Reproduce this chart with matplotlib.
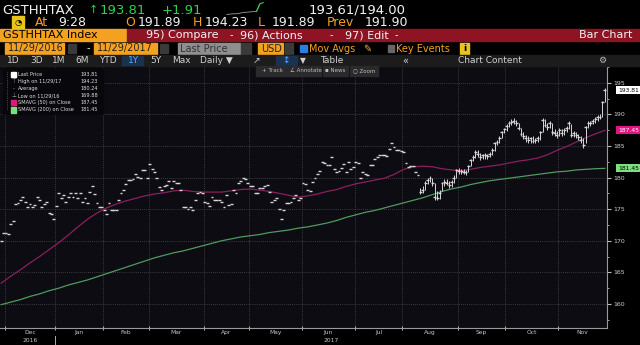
import matplotlib
matplotlib.use("Agg")
import matplotlib.pyplot as plt
from matplotlib.patches import Rectangle
import numpy as np
import pandas as pd

W, H = 640, 345

# US market holidays inside the window (trading-day x axis, like the terminal)
HOLIDAYS = ["2016-12-26", "2017-01-02", "2017-01-16", "2017-02-20", "2017-04-14",
            "2017-05-29", "2017-07-04", "2017-09-04", "2017-11-23"]
trade_dates = pd.bdate_range("2016-11-29", "2017-11-29").difference(pd.to_datetime(HOLIDAYS))

# daily closes
close = [
    169.9, 171.3, 171.2, 171.1, 172.6, 173.2, 175.8, 176.0, 176.4, 177.0,
    176.2, 175.3, 175.8, 175.3, 175.6, 177.0, 176.5, 175.3, 175.8, 176.2,
    174.4, 174.2, 173.4, 175.5, 177.6, 176.7, 177.2, 176.2, 177.0, 177.6,
    177.0, 177.6, 176.7, 177.6, 176.2, 176.7, 176.0, 177.7, 178.6, 177.4,
    175.9, 175.3, 175.3, 174.8, 174.2, 175.9, 174.9, 174.9, 174.9, 176.4,
    177.5, 178.1, 179.0, 179.6, 179.6, 179.7, 180.6, 180.1, 180.0, 181.2,
    181.2, 179.9, 182.1, 181.3, 180.9, 179.9, 178.5, 178.0, 178.6, 178.8,
    179.5, 178.3, 179.5, 179.2, 179.1, 178.0, 175.4, 175.3, 175.1, 175.3,
    174.9, 176.4, 177.5, 177.7, 177.5, 176.2, 175.9, 175.5, 177.0, 176.5,
    176.4, 176.5, 176.2, 175.3, 177.2, 175.6, 175.8, 178.0, 177.5, 179.1,
    179.5, 179.9, 179.7, 179.1, 178.6, 178.6, 177.5, 177.5, 178.3, 178.4,
    178.6, 178.8, 177.7, 176.2, 176.5, 176.7, 175.0, 173.5, 174.9, 175.9,
    176.0, 176.2, 176.7, 177.2, 176.5, 176.7, 179.2, 179.0, 178.1, 177.9,
    179.3, 180.0, 180.6, 181.1, 182.5, 182.3, 182.0, 182.0, 183.3, 181.4,
    180.9, 181.1, 181.5, 182.1, 180.8, 182.5, 181.4, 181.6, 182.5, 182.3,
    179.9, 180.9, 180.5, 180.4, 182.0, 182.0, 182.9, 183.2, 183.5, 183.5,
    183.5, 183.4, 184.5, 185.5, 184.9, 184.4, 184.4, 184.2, 184.1, 182.3,
    181.7, 181.8, 181.8, 180.9, 180.4, 177.7, 178.1, 179.2, 179.6, 180.0,
    179.1, 177.0, 176.7, 177.5, 179.1, 179.3, 179.2, 178.8, 179.3, 180.0,
    181.2, 181.0, 181.1, 180.9, 180.8, 181.8, 182.8, 183.2, 184.1, 183.8,
    183.2, 183.5, 183.5, 183.4, 183.8, 184.3, 185.4, 185.6, 186.2, 187.2,
    187.6, 188.1, 188.6, 188.8, 189.0, 188.6, 187.8, 186.9, 186.5, 186.2,
    185.9, 186.2, 185.8, 186.0, 186.2, 187.2, 189.1, 188.3, 188.0, 188.6,
    187.2, 187.0, 186.7, 187.5, 187.0, 187.5, 187.8, 188.6, 186.7, 187.0,
    186.7, 186.4, 185.9, 185.2, 188.0, 188.6, 188.6, 189.0, 189.2, 189.6,
    189.5, 191.9, 193.81,
]

# intraday range only shows from mid-August on
RANGE_START = "2017-08-10"
high_recent = [
    178.4, 178.6, 179.5, 180.0, 180.3, 180.0, 179.1, 177.8, 178.0, 179.3,
    179.7, 179.8, 179.5, 179.6, 180.4, 181.4, 181.5, 181.4, 181.3, 181.2,
    182.0, 183.0, 183.5, 184.4, 184.3, 183.9, 183.8, 183.9, 183.8, 184.0,
    184.6, 185.6, 186.0, 186.5, 187.4, 187.9, 188.4, 188.9, 189.3, 189.4,
    189.1, 188.7, 187.9, 187.2, 186.8, 186.5, 186.4, 186.5, 186.3, 186.5,
    187.4, 189.4, 189.2, 188.6, 188.9, 188.6, 187.6, 187.3, 187.8, 187.7,
    187.8, 188.1, 188.9, 188.5, 187.4, 187.2, 186.9, 186.6, 186.3, 188.2,
    188.9, 189.0, 189.3, 189.5, 189.9, 190.1, 192.1, 194.23,
]
low_recent = [
    177.4, 177.6, 178.0, 179.0, 179.3, 178.6, 176.5, 176.4, 176.6, 177.8,
    178.7, 178.8, 178.4, 178.5, 179.2, 180.0, 180.6, 180.5, 180.5, 180.4,
    180.8, 181.8, 182.6, 183.1, 183.3, 182.7, 182.9, 183.0, 182.9, 183.2,
    183.6, 184.2, 185.1, 185.5, 186.2, 187.0, 187.4, 188.0, 188.3, 188.4,
    188.2, 187.5, 186.6, 186.1, 185.7, 185.4, 185.5, 185.4, 185.5, 185.6,
    186.0, 187.2, 188.0, 187.5, 187.8, 186.8, 186.5, 186.2, 186.6, 186.6,
    186.8, 187.2, 187.7, 186.4, 186.4, 186.2, 185.9, 185.5, 184.6, 185.4,
    187.8, 188.2, 188.5, 188.7, 188.9, 189.2, 189.6, 191.89,
]

# moving averages, sampled every 4th session
MA_STEP = 4
smavg_50 = [
    163.3, 164.4, 165.4, 166.5, 167.5, 168.6, 169.7, 170.9, 172.2, 173.4,
    174.4, 175.2, 175.8, 176.3, 176.7, 177.1, 177.4, 177.6, 177.9, 178.0,
    177.8, 177.7, 177.7, 177.7, 177.9, 178.1, 178.2, 178.0, 177.8, 177.5,
    177.2, 176.9, 177.1, 177.4, 177.8, 178.1, 178.6, 179.0, 179.3, 179.6,
    179.9, 180.5, 181.3, 181.7, 181.8, 181.7, 181.4, 181.2, 181.1, 181.3,
    181.6, 181.8, 182.0, 182.3, 182.6, 182.8, 183.1, 183.6, 184.3, 184.9,
    185.6, 186.3, 186.9, 187.45,
]
smavg_200 = [
    159.9, 160.3, 160.7, 161.2, 161.6, 162.1, 162.5, 163.0, 163.4, 163.8,
    164.3, 164.8, 165.3, 165.8, 166.3, 166.8, 167.3, 167.7, 168.1, 168.4,
    168.8, 169.2, 169.6, 170.0, 170.3, 170.6, 170.8, 171.0, 171.3, 171.5,
    171.7, 172.0, 172.2, 172.5, 172.8, 173.2, 173.7, 174.1, 174.5, 174.8,
    175.2, 175.6, 176.0, 176.4, 176.8, 177.3, 177.8, 178.2, 178.5, 178.9,
    179.2, 179.5, 179.7, 179.9, 180.1, 180.3, 180.5, 180.7, 180.9, 181.0,
    181.2, 181.3, 181.4, 181.45,
]

# intraday sparkline in the header
spark = [191.9, 191.95, 192.0, 192.0, 192.1, 192.2, 192.25, 192.3, 192.35, 192.4, 193.6, 193.8]

y_ticks = [160, 165, 170, 175, 180, 185, 190, 195]
legend_rows = [
    ("Last Price", "193.81", "#ffffff"),
    ("High on 11/29/17", "194.23", None),
    ("Average", "180.24", None),
    ("Low on 11/29/16", "169.88", None),
    ("SMAVG (50) on Close", "187.45", "#e0157f"),
    ("SMAVG (200) on Close", "181.45", "#7be07f"),
]

ORANGE = "#f4a11f"
GREEN = "#2fd14e"
WHITE = "#f2f2f2"
RED = "#8e1424"
MA50_COLOR = "#8c1f5e"
MA200_COLOR = "#4f9a5e"
BAR_COLOR = "#d6d6d6"

plt.rcParams["font.family"] = ["DejaVu Sans"]

fig = plt.figure(figsize=(W / 100, H / 100), dpi=100, facecolor="black")


def box(x0, y0, x1, y1, color, z=1):
    fig.patches.append(Rectangle((x0 / W, 1 - y1 / H), (x1 - x0) / W, (y1 - y0) / H,
                                 transform=fig.transFigure, color=color, zorder=z))


def txt(x, y, s, color=WHITE, size=8, ha="left", **kw):
    fig.text(x / W, 1 - y / H, s, color=color, fontsize=size, ha=ha, va="center", **kw)


# ---- header row 1 / 2: quote
txt(2, 10, "GSTHHTAX", size=9.5)
txt(89, 10, "\u2191", color=GREEN, size=8)
txt(100, 10, "193.81", color=GREEN, size=9.5)
txt(162, 10, "+1.91", color=GREEN, size=9.5)
txt(309, 10, "193.61/194.00", size=9.5)

sp = fig.add_axes([225 / W, 1 - 15 / H, 40 / W, 13 / H])
sp.plot(range(len(spark) - 1), spark[:-1], color="#9a9a9a", lw=0.6)
sp.plot(range(len(spark) - 3, len(spark)), spark[-3:], color=GREEN, lw=0.8)
sp.axis("off")
sp.set_facecolor("none")

box(12, 16, 24, 28, "#e8c51a", z=2)
txt(18, 22, "\u25d4", color="black", size=6, ha="center", zorder=3)
txt(35, 22, "At", color=ORANGE, size=9)
txt(58, 22, "9:28", size=9)
txt(125, 22, "O", color=ORANGE, size=9)
txt(138, 22, "191.89", size=9)
txt(193, 22, "H", color=ORANGE, size=9)
txt(205, 22, "194.23", size=9)
txt(258, 22, "L", color=ORANGE, size=9)
txt(272, 22, "191.89", size=9)
txt(327, 22, "Prev", color=ORANGE, size=9)
txt(365, 22, "191.90", size=9)

# ---- header row 3: function bar
box(0, 29, 126, 41, ORANGE)
txt(3, 35, "GSTHHTAX Index", color="black", size=8)
box(127, 29, 640, 41, RED)
txt(146, 35, "95) Compare", size=8)
txt(230, 35, "-", size=7)
txt(240, 35, "96) Actions", size=8)
txt(330, 35, "-", size=7)
txt(345, 35, "97) Edit", size=8)
txt(395, 35, "-", size=7)
txt(632, 35, "Bar Chart", size=8, ha="right")

# ---- header row 4: date range / options
box(5, 43, 64, 54, ORANGE)
txt(8, 48.5, "11/29/2016", color="#222222", size=7)
box(68, 44, 76, 53, "#3a3a3a")
txt(87, 48.5, "-", size=7)
box(94, 43, 157, 54, ORANGE)
txt(97, 48.5, "11/29/2017", color="#222222", size=7)
box(160, 44, 168, 53, "#3a3a3a")
box(178, 43, 240, 54, "#8e8e8e")
txt(180, 48.5, "Last Price", color="#333333", size=7)
box(241, 43, 251, 54, "#3a3a3a")
box(258, 43, 283, 54, ORANGE)
txt(261, 48.5, "USD", color="#222222", size=7)
box(285, 43, 293, 54, "#3a3a3a")
box(300, 45, 307, 52, "#2a7de1")
txt(309, 48.5, "Mov Avgs", color=ORANGE, size=7)
txt(363, 48.5, "\u270e", color="#e6b34a", size=7)
box(388, 45, 394, 52, "#666666")
txt(396, 48.5, "Key Events", color=ORANGE, size=7)
box(460, 43, 469, 54, "#e8c51a")
txt(464.5, 48.5, "i", color="black", size=6.5, ha="center", weight="bold")

# ---- header row 5: periods / toolbar
box(0, 55, 640, 66, "#1c1c1c")
for lbl, x in [("1D", 7), ("3D", 30), ("1M", 52), ("6M", 75), ("YTD", 99), ("5Y", 150),
               ("Max", 172), ("Daily \u25bc", 200)]:
    txt(x, 60.5, lbl, color="#d0d0d0", size=6.5)
box(122, 56, 143, 65, "#1b3150")
txt(128, 60.5, "1Y", color="#5aa8ff", size=6.5)
box(276, 56, 297, 65, "#1b3150")
txt(253, 60.5, "\u2197", color="#d0d0d0", size=6.5)
txt(282, 60.5, "\u2195", color="#5aa8ff", size=6.5)
txt(300, 60.5, "\u25bc", color="#d0d0d0", size=5.5)
txt(320, 60.5, "Table", color="#d0d0d0", size=6.5)
txt(402, 60.5, "\u00ab", color="#d0d0d0", size=7)
txt(458, 60.5, "Chart Content", color="#d0d0d0", size=6.5)
txt(598, 60.5, "\u2699", color="#bbbbbb", size=6.5)

# ---- chart
top_px, bot_px, right_px = 66, 328, 607
ax = fig.add_axes([0, 1 - bot_px / H, right_px / W, (bot_px - top_px) / H])
ax.set_facecolor("#0c0c12")

n = len(trade_dates)
idx = np.arange(n)
close = np.array(close)
high = close.copy()
low = close.copy()
start = trade_dates.get_loc(pd.Timestamp(RANGE_START))
high[start:] = high_recent
low[start:] = low_recent

ax.vlines(idx, low, high, color=BAR_COLOR, lw=0.7, zorder=3)
ax.hlines(close, idx - 0.6, idx + 0.6, color=BAR_COLOR, lw=1.0, zorder=3)

ma_idx = idx[::MA_STEP]
ax.plot(ma_idx, smavg_50, color=MA50_COLOR, lw=0.9, zorder=2)
ax.plot(ma_idx, smavg_200, color=MA200_COLOR, lw=0.9, zorder=2)

ylo = 195 - (bot_px - 82.7) / 6.323
yhi = 195 + (82.7 - top_px) / 6.323
ax.set_ylim(ylo, yhi)
ax.set_xlim(-0.5, n - 0.1)

# month boundaries at the first session of each month
months = trade_dates.to_period("M")
month_starts = [i for i in range(1, n) if months[i] != months[i - 1]]
bounds = [b - 0.5 for b in month_starts]
ax.set_xticks(bounds)
ax.tick_params(axis="x", length=3, direction="inout", color="#aaaaaa", labelbottom=False)
for b in bounds:
    ax.axvline(b, color="#4c4c4c", lw=0.6, ls=(0, (1, 1.5)), zorder=1)
xt = ax.get_xaxis_transform()
edges = bounds + [n - 0.1]
for left_b, right_b, ms in zip(edges[:-1], edges[1:], month_starts):
    ax.text((left_b + right_b) / 2, -0.019, trade_dates[ms].strftime("%b"), transform=xt,
            ha="center", va="center", color="#c8c8c8", fontsize=4.3)
ax.text((bounds[0] + bounds[1]) / 2, -0.047, "2016", transform=xt,
        ha="center", va="center", color="#c8c8c8", fontsize=4.3)
ax.text((bounds[1] + n) / 2, -0.047, "2017", transform=xt,
        ha="center", va="center", color="#c8c8c8", fontsize=4.3)
ax.plot([bounds[1], bounds[1]], [-0.03, -0.065], transform=xt,
        color="#c8c8c8", lw=0.6, clip_on=False)

ax.yaxis.tick_right()
ax.set_yticks(y_ticks)
ax.set_yticks(np.arange(157.5, 197.6, 5), minor=True)
ax.tick_params(axis="y", which="major", length=3, color="#bbbbbb", labelsize=4.5,
               labelcolor="#cfcfcf", pad=1.5)
ax.tick_params(axis="y", which="minor", length=1.5, color="#bbbbbb")
for v in y_ticks:
    ax.axhline(v, color="#4c4c4c", lw=0.6, ls=(0, (1, 1.5)), zorder=1)
for side in ["top", "left"]:
    ax.spines[side].set_visible(False)
for side in ["right", "bottom"]:
    ax.spines[side].set_color("#9a9a9a")
    ax.spines[side].set_linewidth(0.8)

# last value tags on the axis
tags = [(close[-1], "193.81", "#ffffff", "black"),
        (smavg_50[-1], "187.45", "#e0157f", "white"),
        (smavg_200[-1], "181.45", "#7be07f", "black")]
for v, s, fc, tc in tags:
    ax.text(1.018, v, s, transform=ax.get_yaxis_transform(), ha="left", va="center",
            fontsize=4.3, color=tc, clip_on=False,
            bbox=dict(boxstyle="square,pad=0.25", fc=fc, ec="none"))

# in-chart toolbar
for x0, x1, lbl in [(256, 289, "+ Track"), (290, 321, "\u2220 Annotate"),
                    (323, 348, "\u25aa News"), (350, 378, "\u25cb Zoom")]:
    box(x0, 66, x1, 76, "#2a2a2a", z=5)
    txt((x0 + x1) / 2, 71, lbl, color="#bdbdbd", size=4, ha="center", zorder=6)

# legend block
box(3, 68, 103, 114, "#08080c", z=5)
fig.lines.append(plt.Line2D([7 / W, 7 / W], [1 - 72 / H, 1 - 110 / H], transform=fig.transFigure,
                            color="#777777", lw=0.5, ls=":", zorder=6))
for k, (name, val, mark) in enumerate(legend_rows):
    y = 74.7 + k * 7.05
    if mark:
        box(11, y - 2.6, 16, y + 2.6, mark, z=6)
    else:
        txt(13.5, y, "\u22a5" if k == 3 else ("\u22a4" if k == 1 else "-"), color="#aaaaaa",
            size=4, ha="center", zorder=6)
    txt(18, y, name, color="#dcdcdc", size=3.6, zorder=6)
    txt(98, y, val, color="#dcdcdc", size=3.6, ha="right", zorder=6)

fig.savefig("out.png", dpi=100, facecolor="black")
